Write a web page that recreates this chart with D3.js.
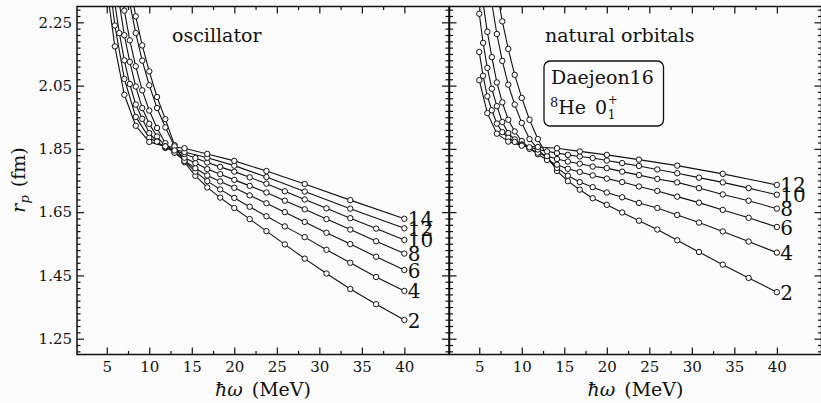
<!DOCTYPE html>
<html>
<head>
<meta charset="utf-8">
<script src="https://cdn.jsdelivr.net/npm/d3@7"></script>
<style>
  html, body { margin: 0; padding: 0; background: #fbfbfb; }
  svg { display: block; }
  text { font-family: "DejaVu Serif", serif; fill: #111; }
</style>
</head>
<body>
<svg id="chart" width="821" height="403"></svg>
<script>
// hbar*omega grids (MeV): fine steps of 2^(1/8), coarse steps of 2^(1/4)
const hwFine = [40, 36.68, 33.64, 30.84, 28.28, 25.94, 23.78, 21.81, 20.00, 18.34, 16.82, 15.42, 14.14,
                12.97, 11.89, 10.91, 10.00, 9.17, 8.41, 7.71, 7.07, 6.48, 5.95, 5.45, 5.00];
const hwCoarse = [40, 33.64, 28.28, 23.78, 20.00, 16.82, 14.14, 11.89, 10.00, 8.41, 7.07, 5.95, 5.00];

// point-proton radius r_p (fm), oscillator basis, by Nmax
const osc2  = [1.309, 1.359, 1.407, 1.456, 1.503, 1.548, 1.590, 1.628, 1.663, 1.696, 1.728, 1.765, 1.808, 1.862, 1.944, 2.014, 2.095, 2.177, 2.269, 2.370];
const osc4  = [1.401, 1.445, 1.490, 1.531, 1.571, 1.605, 1.637, 1.667, 1.695, 1.722, 1.748, 1.778, 1.812, 1.858, 1.918, 1.979, 2.051, 2.129, 2.216, 2.310];
const osc6  = [1.467, 1.509, 1.549, 1.585, 1.619, 1.650, 1.678, 1.703, 1.727, 1.747, 1.766, 1.789, 1.812, 1.838, 1.868, 1.916, 1.971, 2.035, 2.111, 2.193, 2.287, 2.390];
const osc8  = [1.519, 1.558, 1.595, 1.628, 1.659, 1.686, 1.712, 1.733, 1.752, 1.770, 1.786, 1.805, 1.822, 1.838, 1.858, 1.889, 1.929, 1.979, 2.047, 2.125, 2.209, 2.310, 2.400];
const osc10 = [1.562, 1.598, 1.631, 1.662, 1.690, 1.716, 1.740, 1.760, 1.778, 1.793, 1.807, 1.821, 1.834, 1.845, 1.853, 1.873, 1.900, 1.945, 1.990, 2.055, 2.130, 2.216, 2.310];
const osc12 = [1.599, 1.661, 1.715, 1.761, 1.797, 1.822, 1.840, 1.855, 1.885, 1.951, 2.071, 2.240, 2.450];
const osc14 = [1.629, 1.688, 1.739, 1.780, 1.812, 1.834, 1.852, 1.858, 1.872, 1.923, 2.021, 2.174, 2.360];

// point-proton radius r_p (fm), natural-orbital basis, by Nmax
const no2  = [1.397, 1.442, 1.484, 1.524, 1.561, 1.595, 1.623, 1.649, 1.673, 1.694, 1.721, 1.748, 1.780, 1.828, 1.881, 1.942, 2.011, 2.084, 2.166, 2.253, 2.350];
const no4  = [1.522, 1.557, 1.589, 1.617, 1.641, 1.663, 1.679, 1.697, 1.712, 1.729, 1.745, 1.765, 1.790, 1.818, 1.850, 1.881, 1.932, 1.990, 2.053, 2.128, 2.213, 2.310];
const no6  = [1.603, 1.632, 1.657, 1.680, 1.699, 1.717, 1.731, 1.745, 1.756, 1.766, 1.777, 1.787, 1.800, 1.815, 1.833, 1.852, 1.875, 1.905, 1.942, 1.997, 2.060, 2.140, 2.220, 2.310];
const no8  = [1.661, 1.686, 1.706, 1.726, 1.744, 1.755, 1.767, 1.778, 1.789, 1.794, 1.803, 1.810, 1.818, 1.827, 1.838, 1.850, 1.864, 1.880, 1.900, 1.935, 1.985, 2.040, 2.106, 2.185, 2.277];
const no10 = [1.705, 1.726, 1.744, 1.759, 1.773, 1.785, 1.796, 1.805, 1.813, 1.821, 1.826, 1.831, 1.837, 1.842, 1.848, 1.855, 1.862, 1.872, 1.885, 1.903, 1.930, 1.972, 2.016, 2.081, 2.156];
const no12 = [1.736, 1.771, 1.797, 1.816, 1.831, 1.842, 1.852, 1.856, 1.860, 1.873, 1.898, 1.963, 2.067];

const xMajorTicks = [5, 10, 15, 20, 25, 30, 35, 40];
const xMinorTicks = [7.5, 12.5, 17.5, 22.5, 27.5, 32.5, 37.5];
const yMajorTicks = [1.25, 1.45, 1.65, 1.85, 2.05, 2.25];

const panels = [
  { title: "natural orbitals", key: "no", x0: 449.5, x1: 821.5, titleX: 545,
    series: [
      { label: "2",  hw: hwFine,   r: no2 },
      { label: "4",  hw: hwFine,   r: no4 },
      { label: "6",  hw: hwFine,   r: no6 },
      { label: "8",  hw: hwFine,   r: no8 },
      { label: "10", hw: hwFine,   r: no10 },
      { label: "12", hw: hwCoarse, r: no12 }
    ] },
  { title: "oscillator", key: "osc", x0: 77, x1: 449, titleX: 172,
    series: [
      { label: "2",  hw: hwFine,   r: osc2 },
      { label: "4",  hw: hwFine,   r: osc4 },
      { label: "6",  hw: hwFine,   r: osc6 },
      { label: "8",  hw: hwFine,   r: osc8 },
      { label: "10", hw: hwFine,   r: osc10 },
      { label: "12", hw: hwCoarse, r: osc12 },
      { label: "14", hw: hwCoarse, r: osc14 }
    ] }
];

const svg = d3.select("#chart");
const yTop = 6.5, yBottom = 354.5;
const y = d3.scaleLinear().domain([1.2, 2.3]).range([yBottom, yTop]);
const yMinor = d3.range(1.21, 2.3, 0.02).map(v => +v.toFixed(2))
  .filter(v => !yMajorTicks.some(m => Math.abs(m - v) < 1e-6));

function styleAxis(g) {
  g.select(".domain").remove();
  g.selectAll(".tick line").attr("stroke", "#111").attr("stroke-width", 1.2);
  g.selectAll(".tick text").attr("font-family", "DejaVu Serif, serif").attr("font-size", 15).attr("fill", "#111");
}

panels.forEach(p => {
  const x = d3.scaleLinear().domain([1.5, 45.25]).range([p.x0, p.x1]);
  const g = svg.append("g");
  const clipId = "clip-" + p.key;
  svg.append("clipPath").attr("id", clipId)
    .append("rect").attr("x", p.x0).attr("y", yTop).attr("width", p.x1 - p.x0).attr("height", yBottom - yTop);

  // bottom axis, labelled; top axis mirrored
  g.append("g").attr("transform", `translate(0,${yBottom})`)
    .call(d3.axisBottom(x).tickValues(xMajorTicks).tickSize(-7).tickSizeOuter(0).tickPadding(7).tickFormat(d3.format("d")))
    .call(styleAxis);
  g.append("g").attr("transform", `translate(0,${yBottom})`)
    .call(d3.axisBottom(x).tickValues(xMinorTicks).tickSize(-3.5).tickSizeOuter(0).tickFormat(""))
    .call(styleAxis);
  g.append("g").attr("transform", `translate(0,${yTop})`)
    .call(d3.axisTop(x).tickValues(xMajorTicks).tickSize(-7).tickSizeOuter(0).tickFormat(""))
    .call(styleAxis);
  g.append("g").attr("transform", `translate(0,${yTop})`)
    .call(d3.axisTop(x).tickValues(xMinorTicks).tickSize(-3.5).tickSizeOuter(0).tickFormat(""))
    .call(styleAxis);

  // left and right axes with inward ticks
  const showLabels = p.key === "osc";
  g.append("g").attr("transform", `translate(${p.x0},0)`)
    .call(d3.axisLeft(y).tickValues(yMajorTicks).tickSize(-7).tickSizeOuter(0).tickPadding(5)
      .tickFormat(showLabels ? d3.format(".2f") : ""))
    .call(styleAxis);
  g.append("g").attr("transform", `translate(${p.x0},0)`)
    .call(d3.axisLeft(y).tickValues(yMinor).tickSize(-3.5).tickSizeOuter(0).tickFormat(""))
    .call(styleAxis);
  g.append("g").attr("transform", `translate(${p.x1},0)`)
    .call(d3.axisRight(y).tickValues(yMajorTicks).tickSize(-7).tickSizeOuter(0).tickFormat(""))
    .call(styleAxis);
  g.append("g").attr("transform", `translate(${p.x1},0)`)
    .call(d3.axisRight(y).tickValues(yMinor).tickSize(-3.5).tickSizeOuter(0).tickFormat(""))
    .call(styleAxis);

  // curves with open circle markers
  const plot = g.append("g").attr("clip-path", `url(#${clipId})`);
  const line = d3.line().x(d => x(d[0])).y(d => y(d[1]));
  p.series.forEach(s => {
    const pts = s.r.map((v, i) => [s.hw[i], v]);
    plot.append("path").datum(pts).attr("d", line)
      .attr("fill", "none").attr("stroke", "#111").attr("stroke-width", 1.1);
  });
  p.series.forEach(s => {
    const pts = s.r.map((v, i) => [s.hw[i], v]);
    plot.selectAll(null).data(pts).enter().append("circle")
      .attr("cx", d => x(d[0])).attr("cy", d => y(d[1])).attr("r", 2.7)
      .attr("fill", "#fff").attr("stroke", "#111").attr("stroke-width", 1);
  });

  // Nmax labels at the 40 MeV end of each curve
  p.series.forEach(s => {
    g.append("text")
      .attr("x", x(s.hw[0]) + 3.5).attr("y", y(s.r[0]) + 7.5)
      .attr("font-size", 20).text(s.label);
  });

  // frame
  g.append("rect").attr("x", p.x0).attr("y", yTop).attr("width", p.x1 - p.x0).attr("height", yBottom - yTop)
    .attr("fill", "none").attr("stroke", "#111").attr("stroke-width", 1.5);

  // panel title
  g.append("text").attr("x", p.titleX).attr("y", 41.5).attr("font-size", 19).text(p.title);

  // x-axis title
  const xt = g.append("text").attr("x", (p.x0 + p.x1) / 2).attr("y", 396)
    .attr("text-anchor", "middle").attr("font-size", 19);
  xt.append("tspan").attr("font-style", "italic").text("ħω");
  xt.append("tspan").attr("dx", 9).text("(MeV)");
});

// y-axis title
const yt = svg.append("text").attr("transform", "translate(25,180) rotate(-90)")
  .attr("text-anchor", "middle").attr("font-size", 19);
yt.append("tspan").attr("font-style", "italic").text("r");
yt.append("tspan").attr("font-style", "italic").attr("font-size", 13).attr("dy", 4).text("p");
yt.append("tspan").attr("dy", -4).attr("dx", 8).text("(fm)");

// interaction / state box
const box = svg.append("g");
box.append("rect").attr("x", 544).attr("y", 61).attr("width", 119.5).attr("height", 65).attr("rx", 6)
  .attr("fill", "none").attr("stroke", "#111").attr("stroke-width", 1.3);
box.append("text").attr("x", 551).attr("y", 84).attr("font-size", 19).text("Daejeon16");
const st = box.append("text").attr("x", 550).attr("y", 113.5).attr("font-size", 19);
st.append("tspan").attr("font-size", 13).attr("dy", -7).text("8");
st.append("tspan").attr("dy", 7).text("He");
st.append("tspan").attr("dx", 9).text("0");
const bb = st.node().getBBox();
const zeroEnd = bb.x + bb.width;
box.append("text").attr("x", zeroEnd + 0.5).attr("y", 118.5).attr("font-size", 12).text("1");
box.append("text").attr("x", zeroEnd + 0.5).attr("y", 104).attr("font-size", 12).text("+");
</script>
</body>
</html>
